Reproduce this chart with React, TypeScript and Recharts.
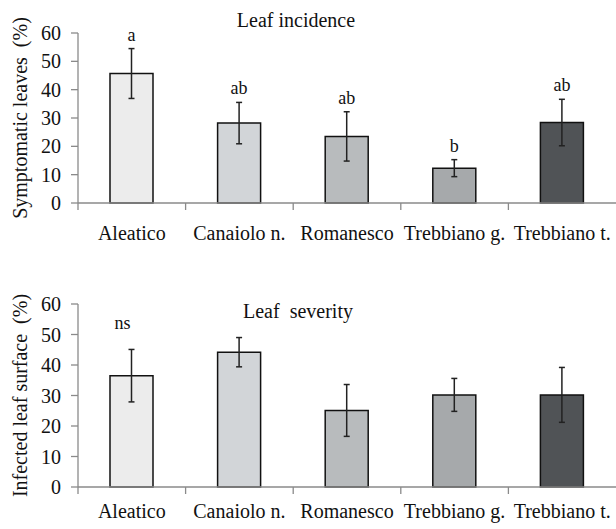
import React from 'react';
import { BarChart, Bar, XAxis, YAxis, ErrorBar, Cell, LabelList } from 'recharts';

const categories = ['Aleatico', 'Canaiolo n.', 'Romanesco', 'Trebbiano g.', 'Trebbiano t.'];
const incidence = [45.7, 28.2, 23.5, 12.3, 28.4];
const incidenceErr = [8.8, 7.3, 8.7, 3.0, 8.2];
const incidenceLetters = ['a', 'ab', 'ab', 'b', 'ab'];
const severity = [36.5, 44.2, 25.1, 30.2, 30.2];
const severityErr = [8.6, 4.8, 8.5, 5.4, 9.0];
const severityLetters = ['ns', '', '', '', ''];
const yTicks = [0, 10, 20, 30, 40, 50, 60];
const barColors = ['#ececec', '#d2d5d8', '#b8bbbd', '#a6a9ab', '#505356'];

const FONT = '"Liberation Serif", "Times New Roman", serif';
const AXIS = '#8a8a8a';
const W = 616;
const LEFT = 78;
const BW = (W - LEFT) / categories.length;
const textStyle = { fontFamily: FONT, fontSize: 20, fill: '#111' } as const;

function buildRows(vals: number[], errs: number[], letters: string[]) {
  return categories.map((c, i) => ({ name: c, value: vals[i], err: errs[i], letter: letters[i] }));
}

type PanelProps = {
  top: number;
  height: number;
  marginTop: number;
  xAxisHeight: number;
  marginBottom: number;
  labelDy: number;
  title: string;
  titleX: number;
  titleY: number;
  yLabel: string;
  vals: number[];
  errs: number[];
  letters: string[];
  letterGap: number;
  letterDx: number;
};

function Panel(p: PanelProps) {
  const rows = buildRows(p.vals, p.errs, p.letters);

  const CatTick = (t: any) => {
    const { x, y, payload } = t;
    const bx = x - BW / 2;
    return (
      <g>
        <line x1={bx} x2={bx} y1={y} y2={y + 7} stroke={AXIS} strokeWidth={1.3} />
        <text x={x} y={y + p.labelDy} textAnchor="middle" style={textStyle}>
          {payload.value}
        </text>
      </g>
    );
  };

  const YTick = (t: any) => {
    const { x, y, payload } = t;
    return (
      <text x={x} y={y} dy="0.35em" textAnchor="end" style={textStyle}>
        {payload.value}
      </text>
    );
  };

  const renderLetter = (lp: any) => {
    const vb = lp.viewBox || lp;
    const x = Number(lp.x ?? vb.x);
    const y = Number(lp.y ?? vb.y);
    const w = Number(lp.width ?? vb.width);
    const h = Number(lp.height ?? vb.height);
    const idx = lp.index;
    const text = p.letters[idx];
    if (!text) return null;
    const perUnit = h / p.vals[idx];
    const errTop = y - p.errs[idx] * perUnit;
    return (
      <text x={x + w / 2 + p.letterDx} y={errTop - p.letterGap} textAnchor="middle" style={{ ...textStyle, fontSize: 18 }}>
        {text}
      </text>
    );
  };

  const renderYLabel = (lp: any) => {
    const vb = lp.viewBox || {};
    const cy = vb.y + vb.height / 2;
    const cx = 20;
    return (
      <text
        x={cx}
        y={cy}
        transform={`rotate(-90, ${cx}, ${cy})`}
        textAnchor="middle"
        dominantBaseline="central"
        style={{ ...textStyle, whiteSpace: 'pre' }}
      >
        {p.yLabel}
      </text>
    );
  };

  return (
    <div style={{ position: 'absolute', left: 0, top: p.top, width: W, height: p.height }}>
      <BarChart
        width={W}
        height={p.height}
        data={rows}
        margin={{ top: p.marginTop, right: 0, bottom: p.marginBottom, left: 0 }}
        barSize={43}
      >
        <XAxis
          dataKey="name"
          height={p.xAxisHeight}
          interval={0}
          tickSize={0}
          tickMargin={0}
          tickLine={false}
          axisLine={{ stroke: AXIS, strokeWidth: 1.3 }}
          tick={CatTick}
        />
        <YAxis
          width={LEFT}
          domain={[0, 60]}
          ticks={yTicks}
          interval={0}
          tickSize={7}
          tickMargin={10}
          axisLine={{ stroke: AXIS, strokeWidth: 1.3 }}
          tickLine={{ stroke: AXIS, strokeWidth: 1.3 }}
          tick={YTick}
          label={{ content: renderYLabel }}
        />
        <Bar dataKey="value" stroke="#111" strokeWidth={1.5} isAnimationActive={false}>
          {rows.map((r, i) => (
            <Cell key={r.name} fill={barColors[i]} />
          ))}
          <ErrorBar dataKey="err" width={3} stroke="#222" strokeWidth={1.5} direction="y" />
          <LabelList dataKey="letter" content={renderLetter} />
        </Bar>
      </BarChart>
      <div
        style={{
          position: 'absolute',
          left: p.titleX,
          top: p.titleY,
          transform: 'translate(-50%, -50%)',
          fontSize: 20,
          lineHeight: '22px',
          fontFamily: FONT,
          color: '#111',
          whiteSpace: 'pre',
        }}
      >
        {p.title}
      </div>
    </div>
  );
}

export default function App() {
  return (
    <div style={{ position: 'absolute', left: 0, top: 0, width: W, height: 529, overflow: 'hidden', background: '#fff' }}>
      <Panel
        top={0}
        height={264}
        marginTop={33}
        xAxisHeight={45}
        marginBottom={16}
        labelDy={37}
        title="Leaf incidence"
        titleX={296}
        titleY={20}
        yLabel="Symptomatic leaves  (%)"
        vals={incidence}
        errs={incidenceErr}
        letters={incidenceLetters}
        letterGap={8}
        letterDx={0}
      />
      <Panel
        top={264}
        height={265}
        marginTop={40}
        xAxisHeight={30}
        marginBottom={12}
        labelDy={31}
        title="Leaf  severity"
        titleX={298}
        titleY={47}
        yLabel="Infected leaf surface  (%)"
        vals={severity}
        errs={severityErr}
        letters={severityLetters}
        letterGap={20}
        letterDx={-9}
      />
    </div>
  );
}
